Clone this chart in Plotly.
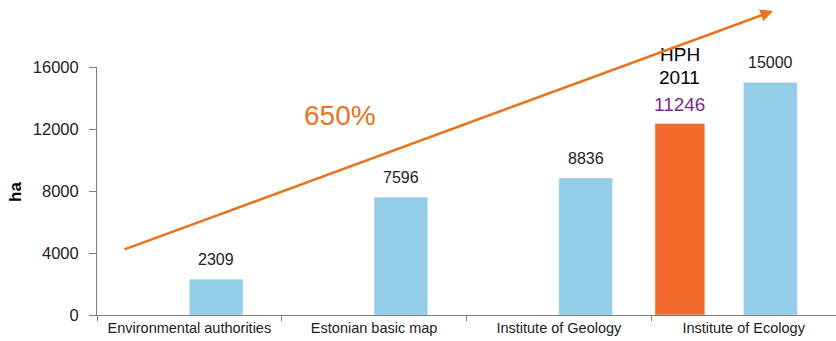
import plotly.graph_objects as go

categories = ["Environmental authorities", "Estonian basic map", "Institute of Geology", "Institute of Ecology"]
blue_values = [2309, 7596, 8836, 15000]
blue_labels = ["2309", "7596", "8836", "15000"]
hph_category = "Institute of Ecology"
hph_bar_height = 12350   # drawn bar height
hph_label = "11246"
hph_title = ["HPH", "2011"]
growth_label = "650%"
y_ticks = [0, 4000, 8000, 12000, 16000]
y_tick_labels = ["0", "4000", "8000", "12000", "16000"]

BLUE = "#93CDE8"
ORANGE_BAR = "#F26B2C"
ORANGE_LINE = "#E8741E"
PURPLE = "#7B2C8B"
FONT = "Liberation Sans, Arial, sans-serif"

fig = go.Figure()
fig.add_trace(go.Bar(x=categories, y=blue_values, marker_color=BLUE,
                     width=0.29, offset=0.0, hoverinfo="skip"))
fig.add_trace(go.Bar(x=[hph_category], y=[hph_bar_height], marker_color=ORANGE_BAR,
                     width=0.27, offset=-0.48, hoverinfo="skip"))

annotations = []
for c, v, t in zip(categories, blue_values, blue_labels):
    annotations.append(dict(x=c, y=v, text=t, showarrow=False, xshift=0.145 * 185,
                            yshift=20, yanchor="middle",
                            font=dict(family=FONT, size=16, color="#222")))
# HPH label block
annotations.append(dict(x=hph_category, y=hph_bar_height, text=hph_label, showarrow=False,
                        xshift=-0.345 * 185, yshift=19, yanchor="middle",
                        font=dict(family=FONT, size=19, color=PURPLE)))
annotations.append(dict(x=hph_category, y=hph_bar_height, text=hph_title[1], showarrow=False,
                        xshift=-0.345 * 185, yshift=46, yanchor="middle",
                        font=dict(family=FONT, size=19, color="#000")))
annotations.append(dict(x=hph_category, y=hph_bar_height, text=hph_title[0], showarrow=False,
                        xshift=-0.345 * 185, yshift=69, yanchor="middle",
                        font=dict(family=FONT, size=19, color="#000")))
# growth arrow
annotations.append(dict(xref="paper", yref="paper", x=(773 - 97) / 739, y=(315 - 11) / 248,
                        axref="pixel", ayref="pixel", ax=123 - 773, ay=250 - 11,
                        showarrow=True, arrowhead=2, arrowsize=1.0, arrowwidth=2.5,
                        arrowcolor=ORANGE_LINE, text=""))
annotations.append(dict(xref="paper", yref="paper", x=(340 - 97) / 739, y=(315 - 115) / 248,
                        text=growth_label, showarrow=False, xanchor="center", yanchor="middle",
                        font=dict(family=FONT, size=28, color=ORANGE_LINE)))
# y axis title
annotations.append(dict(xref="paper", yref="paper", x=-(97 - 15) / 739, y=(315 - 192) / 248,
                        text="<b>ha</b>", showarrow=False, textangle=-90,
                        xanchor="center", yanchor="middle",
                        font=dict(family=FONT, size=17, color="#000")))

fig.update_layout(
    width=836, height=341,
    margin=dict(l=97, r=0, t=67, b=26),
    paper_bgcolor="white", plot_bgcolor="white",
    showlegend=False, barmode="overlay",
    annotations=annotations,
    font=dict(family=FONT, color="#222"),
)
fig.update_xaxes(type="category", range=[-0.5, 3.5], showline=True, linecolor="#7f7f7f",
                 linewidth=1, ticks="outside", tickson="boundaries", ticklen=5,
                 tickcolor="#7f7f7f", showgrid=False,
                 tickfont=dict(family=FONT, size=14.5, color="#222"))
fig.update_yaxes(range=[0, 16000], tickmode="array", tickvals=y_ticks, ticktext=y_tick_labels,
                 showline=True, linecolor="#7f7f7f",
                 linewidth=1, ticks="outside", ticklen=7, tickcolor="#7f7f7f",
                 showgrid=False, zeroline=False, ticklabelstandoff=7,
                 tickfont=dict(family=FONT, size=16.5, color="#222"))

fig.write_html("out.html")
